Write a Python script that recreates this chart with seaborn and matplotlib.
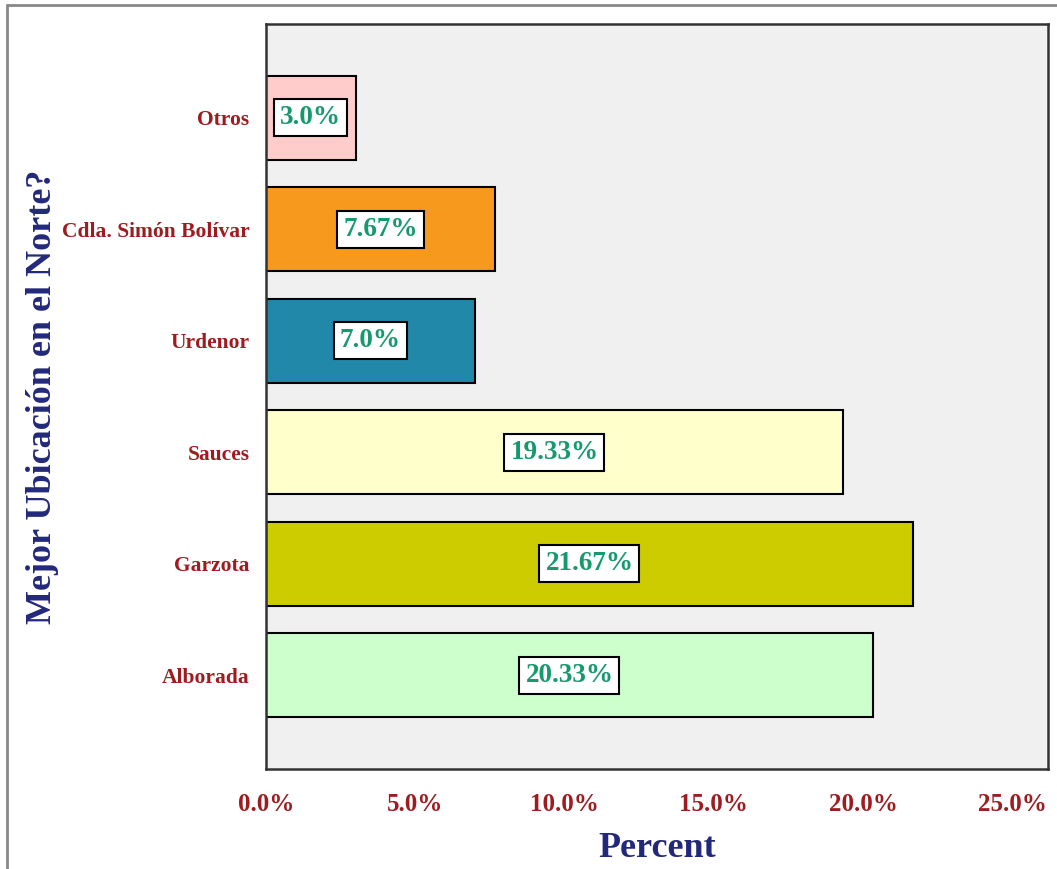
import seaborn as sns
import matplotlib.pyplot as plt
from matplotlib.lines import Line2D
import pandas as pd

categorias = ["Otros", "Cdla. Simón Bolívar", "Urdenor", "Sauces", "Garzota", "Alborada"]
porcentajes = [3.0, 7.67, 7.0, 19.33, 21.67, 20.33]
etiquetas = ["3.0%", "7.67%", "7.0%", "19.33%", "21.67%", "20.33%"]
colores = ["#FFCCCC", "#F7991C", "#2188AA", "#FFFFCC", "#CCCC00", "#CCFFCC"]
xticks = [0, 5, 10, 15, 20, 25]
xticklabels = ["0.0%", "5.0%", "10.0%", "15.0%", "20.0%", "25.0%"]

sns.set_style("white")
plt.rcParams['font.family'] = ['Liberation Serif', 'DejaVu Serif']
plt.rcParams['font.weight'] = 'bold'

df = pd.DataFrame({"cat": categorias, "pct": porcentajes})

fig = plt.figure(figsize=(10.57, 8.69), dpi=100)
ax = fig.add_axes([266 / 1057, 100 / 869, 782 / 1057, 745 / 869])
ax.set_facecolor("#F0F0F0")

sns.barplot(data=df, x="pct", y="cat", hue="cat", palette=colores, orient="h",
            width=0.75, saturation=1, edgecolor="black", linewidth=1.5,
            legend=False, ax=ax)

for i, (v, lab) in enumerate(zip(porcentajes, etiquetas)):
    ax.text(v / 2, i, lab, ha="center", va="center", fontsize=19.5,
            fontweight="bold", color="#169A6C",
            bbox=dict(boxstyle="square,pad=0.22", facecolor="white",
                      edgecolor="black", linewidth=1.5))

ax.set_xlim(0, 26.2)
ax.set_ylim(5.84, -0.84)
ax.set_xticks(xticks)
ax.set_xticklabels(xticklabels)

for s in ax.spines.values():
    s.set_visible(True)
    s.set_color("#333333")
    s.set_linewidth(1.8)

ax.tick_params(axis="x", direction="out", length=11, width=1.8, color="#333333",
               pad=6, labelsize=18, labelcolor="#9E1B20")
ax.tick_params(axis="y", direction="out", length=10, width=1.8, color="#333333",
               pad=2, labelsize=15.5, labelcolor="#9E1B20")
for t in ax.get_xticklabels() + ax.get_yticklabels():
    t.set_fontweight("bold")

ax.set_xlabel("Percent", fontsize=26, fontweight="bold", color="#23297A")
ax.set_ylabel("Mejor Ubicación en el Norte?", fontsize=26, fontweight="bold", color="#23297A")
ax.xaxis.set_label_coords(0.5, -0.085)
ax.yaxis.set_label_coords(-0.265, 0.5)

# marco gris exterior
fig.add_artist(Line2D([7 / 1057, 1], [1 - 5 / 869, 1 - 5 / 869], color="#888888", lw=2))
fig.add_artist(Line2D([7 / 1057, 7 / 1057], [0, 1 - 5 / 869], color="#888888", lw=2))

fig.savefig("out.png", dpi=100)
